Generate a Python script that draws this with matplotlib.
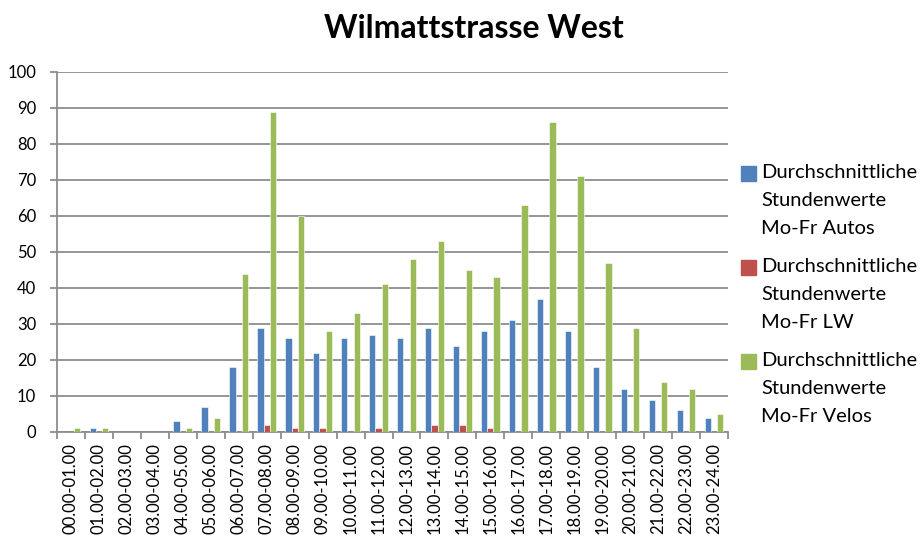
import numpy as np
import matplotlib.pyplot as plt
from matplotlib.patches import Rectangle

hours = ['00.00-01.00', '01.00-02.00', '02.00-03.00', '03.00-04.00', '04.00-05.00',
         '05.00-06.00', '06.00-07.00', '07.00-08.00', '08.00-09.00', '09.00-10.00',
         '10.00-11.00', '11.00-12.00', '12.00-13.00', '13.00-14.00', '14.00-15.00',
         '15.00-16.00', '16.00-17.00', '17.00-18.00', '18.00-19.00', '19.00-20.00',
         '20.00-21.00', '21.00-22.00', '22.00-23.00', '23.00-24.00']
autos = [0, 1, 0, 0, 3, 7, 18, 29, 26, 22, 26, 27, 26, 29, 24, 28, 31, 37, 28, 18, 12, 9, 6, 4]
lw = [0, 0, 0, 0, 0, 0, 0, 2, 1, 1, 0, 1, 0, 2, 2, 1, 0, 0, 0, 0, 0, 0, 0, 0]
velos = [1, 1, 0, 0, 1, 4, 44, 89, 60, 28, 33, 41, 48, 53, 45, 43, 63, 86, 71, 47, 29, 14, 12, 5]

series = [
    ('Durchschnittliche\nStundenwerte\nMo-Fr Autos', autos, '#4F81BD'),
    ('Durchschnittliche\nStundenwerte\nMo-Fr LW', lw, '#C0504D'),
    ('Durchschnittliche\nStundenwerte\nMo-Fr Velos', velos, '#9BBB59'),
]

plt.rcParams['font.family'] = ['Lato', 'DejaVu Sans']

W, H = 924, 540
fig = plt.figure(figsize=(W/100, H/100), dpi=100)
ax = fig.add_axes([57/W, 108/H, 671/W, 360/H])

x = np.arange(len(hours))
w = 1/4.5
for i, (name, vals, col) in enumerate(series):
    ax.bar(x + (i - 1)*w, vals, width=w, color=col, label=name,
           edgecolor='white', linewidth=0.4, zorder=3)

ax.set_xlim(-0.5, len(hours) - 0.5)
ax.set_ylim(0, 100)
ax.set_yticks(range(0, 101, 10))
ax.yaxis.grid(True, color='#8c8c8c', linewidth=1.3, zorder=0)
ax.tick_params(axis='y', length=5, width=1.3, color='#8c8c8c', labelsize=12, pad=10)

ax.set_xticks(x)
ax.set_xticklabels(hours, rotation=90, fontsize=12)
ax.set_xticks(np.arange(-0.5, len(hours)), minor=True)
ax.tick_params(axis='x', which='major', length=0, pad=8)
ax.tick_params(axis='x', which='minor', length=5, width=1.3, color='#8c8c8c')

for s in ['top', 'right']:
    ax.spines[s].set_visible(False)
for s in ['left', 'bottom']:
    ax.spines[s].set_color('#8c8c8c')
    ax.spines[s].set_linewidth(1.3)

fig.text(474/W, 1 - 29/H, 'Wilmattstrasse West', ha='center', va='center',
         fontsize=23, fontweight='bold')

# legend drawn by hand: square beside first line, 3 lines per entry
for k, (name, vals, col) in enumerate(series):
    y0 = 173 + 94*k
    fig.patches.append(Rectangle((741/W, 1 - (y0 + 8)/H), 15/W, 15/H,
                                 transform=fig.transFigure, color=col))
    for j, line in enumerate(name.split('\n')):
        fig.text(761/W, 1 - (y0 + 28*j)/H, line, ha='left', va='center',
                 fontsize=14.5)

fig.savefig('out.png', dpi=100)
